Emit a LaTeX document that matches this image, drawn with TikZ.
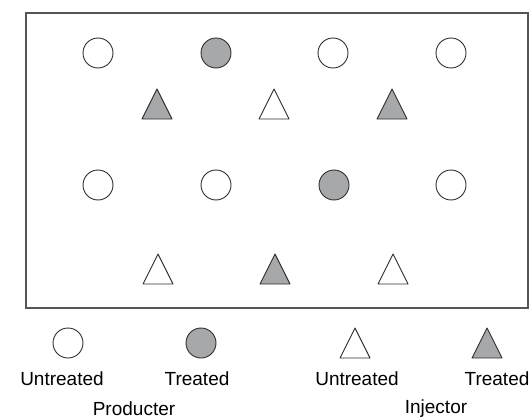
\documentclass[tikz,border=0pt]{standalone}
\usepackage{fontspec}
\setmainfont{Liberation Sans}
\definecolor{fillgray}{HTML}{A7A8AA}
\definecolor{strokegray}{HTML}{2E2E2E}
\definecolor{boxgray}{HTML}{555555}
\tikzset{
  well/.style={draw=strokegray, line width=0.9pt, line join=round},
  prod/.pic={\draw[well, fill=#1] (0,0) circle (15);},
  inj/.pic={\draw[well, fill=#1] (-15,15) -- (0,-15) -- (15,15) -- cycle;},
  lab/.style={font=\fontsize{19}{22}\selectfont, text=black, inner sep=0pt}
}
\begin{document}
\begin{tikzpicture}[x=1pt,y=-1pt]
\useasboundingbox (0,0) rectangle (530,420);
\draw[boxgray, line width=1.3pt] (26,13) rectangle (528,308);
% row 1 producers
\pic at (98,53) {prod=white};
\pic at (216,53) {prod=fillgray};
\pic at (333,53) {prod=white};
\pic at (451,53) {prod=white};
% row 1 injectors
\pic at (157,104) {inj=fillgray};
\pic at (274,104) {inj=white};
\pic at (392,104) {inj=fillgray};
% row 2 producers
\pic at (98,185) {prod=white};
\pic at (216,185) {prod=white};
\pic at (334,185) {prod=fillgray};
\pic at (451,185) {prod=white};
% row 2 injectors
\pic at (158,269) {inj=white};
\pic at (275,269) {inj=fillgray};
\pic at (393,269) {inj=white};
% legend
\pic at (68,343) {prod=white};
\pic at (201,343) {prod=fillgray};
\pic at (355,343) {inj=white};
\pic at (487,343) {inj=fillgray};
\node[lab] (lu1) at (62,379) {Untreated};
\node[lab] (lt1) at (197,379) {Treated};
\node[lab] (lu2) at (357,379) {Untreated};
\node[lab] (lt2) at (497,379) {Treated};
\node[lab] (lp) at (134,409) {Producter};
\node[lab] (li) at (436,409) {Injector};
\end{tikzpicture}
\end{document}
